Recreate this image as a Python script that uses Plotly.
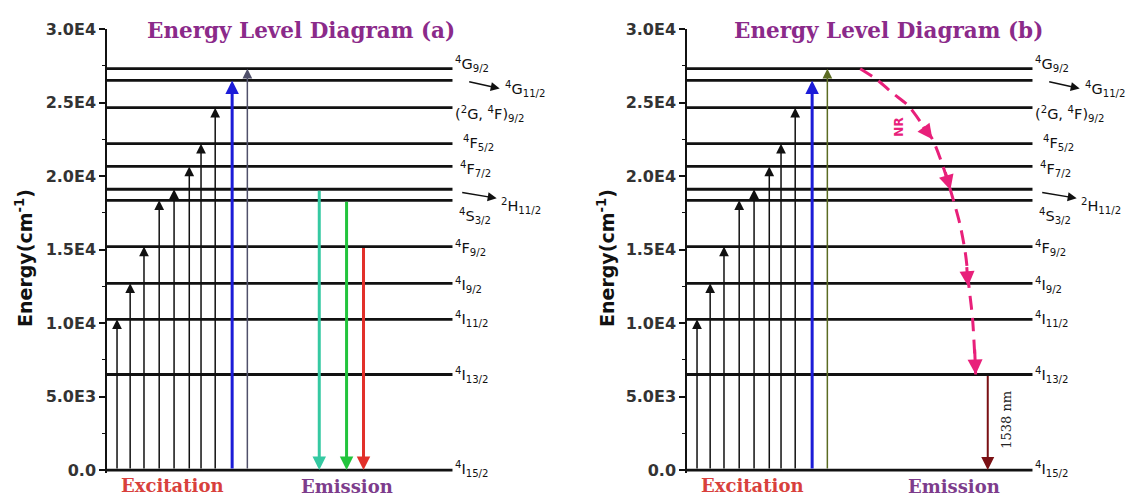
import plotly.graph_objects as go

W, H = 1131, 496

# ---------------- data ----------------
level_energy = [0, 6500, 10250, 12700, 15200, 18350, 19100, 20650, 22200, 24650, 26500, 27300]
level_names = [
    "<sup>4</sup>I<sub>15/2</sub>",
    "<sup>4</sup>I<sub>13/2</sub>",
    "<sup>4</sup>I<sub>11/2</sub>",
    "<sup>4</sup>I<sub>9/2</sub>",
    "<sup>4</sup>F<sub>9/2</sub>",
    "<sup>4</sup>S<sub>3/2</sub>",
    "<sup>2</sup>H<sub>11/2</sub>",
    "<sup>4</sup>F<sub>7/2</sub>",
    "<sup>4</sup>F<sub>5/2</sub>",
    "(<sup>2</sup>G, <sup>4</sup>F)<sub>9/2</sub>",
    "<sup>4</sup>G<sub>11/2</sub>",
    "<sup>4</sup>G<sub>9/2</sub>",
]
# label placement (pixel shifts from right end of level line)
label_xshift = [0, 0, 0, 0, 0, 4, 46, 5, 8, 0, 50, 0]
label_yshift = [1, 0, 0, -2, -1, -16, -17, -3, 1, -6, -9, 5]

exc_x = [2.9, 6.7, 10.7, 15.1, 19.4, 23.8, 27.2, 31.3, 36.2, 40.6]
exc_target = [10250, 12700, 15200, 18350, 19100, 20650, 22200, 24650, 26500, 27300]
exc_colors_a = ["#111111"] * 8 + ["#1c1cd8", "#50506a"]
exc_colors_b = ["#111111"] * 8 + ["#1c1cd8", "#5b6b22"]

em_a_x = [61.4, 69.3, 74.2]
em_a_from = [19100, 18350, 15200]
em_a_colors = ["#35c9a2", "#22c43c", "#e2302a"]

em_b_x = [87.0]
em_b_from = [6500]
em_b_colors = ["#7a1014"]

nr_x = [50.1, 55.0, 59.4, 63.8, 67.5, 71.0, 74.0, 76.2, 79.0, 80.6, 81.6, 82.6, 83.5]
nr_y = [27300, 26550, 25650, 24830, 23700, 22500, 20700, 19050, 16670, 14630, 12400, 10300, 6500]
# NR arrowheads: (tail_x, tail_y, tip_x, tip_y)
nr_heads = [(68.0, 23450, 71.0, 22500), (74.6, 20350, 76.2, 19050),
            (80.9, 13900, 81.3, 12500), (83.2, 8300, 83.5, 6500)]

y_tickvals = [0, 5000, 10000, 15000, 20000, 25000, 30000]
y_ticktext = ["0.0", "5.0E3", "1.0E4", "1.5E4", "2.0E4", "2.5E4", "3.0E4"]

titles = ["Energy Level Diagram (a)", "Energy Level Diagram (b)"]

# ---------------- layout geometry ----------------
mt, mb = 29, 23
plot_h = H - mt - mb
dom1 = [107 / W, 452.7 / W]
dom2 = [687 / W, 1032.7 / W]


def py(p):
    return (H - mb - p) / plot_h


fig = go.Figure()
annotations = []

TITLE_COLOR = "#8B2A8A"
panels = [
    dict(xa="x", ya="y", dom=dom1, exc_colors=exc_colors_a,
         em_x=em_a_x, em_from=em_a_from, em_colors=em_a_colors,
         title_cx=301, exc_cx=172, emi_cx=347, ytitle_cx=24),
    dict(xa="x2", ya="y2", dom=dom2, exc_colors=exc_colors_b,
         em_x=em_b_x, em_from=em_b_from, em_colors=em_b_colors,
         title_cx=888, exc_cx=752, emi_cx=954, ytitle_cx=606),
]

for pi, p in enumerate(panels):
    xa, ya = p["xa"], p["ya"]
    # level lines
    lx, ly = [], []
    for e in level_energy:
        lx += [0, 100, None]
        ly += [e, e, None]
    fig.add_trace(go.Scatter(x=lx, y=ly, mode="lines", xaxis=xa, yaxis=ya,
                             line=dict(color="#111111", width=2.8),
                             hoverinfo="skip", showlegend=False))
    # excitation arrows
    for i, (x, t) in enumerate(zip(exc_x, exc_target)):
        big = p["exc_colors"][i] == "#1c1cd8"
        annotations.append(dict(
            x=x, y=t, ax=x, ay=0, xref=xa, yref=ya, axref=xa, ayref=ya,
            text="", showarrow=True, arrowhead=2,
            arrowwidth=3 if big else 1.5, arrowsize=0.9 if big else 1.3,
            arrowcolor=p["exc_colors"][i]))
    # emission arrows
    for x, f, c in zip(p["em_x"], p["em_from"], p["em_colors"]):
        annotations.append(dict(
            x=x, y=0, ax=x, ay=f, xref=xa, yref=ya, axref=xa, ayref=ya,
            text="", showarrow=True, arrowhead=2,
            arrowwidth=3 if pi == 0 else 2, arrowsize=0.9 if pi == 0 else 1.3,
            arrowcolor=c))
    # level labels
    for i, (e, name) in enumerate(zip(level_energy, level_names)):
        annotations.append(dict(
            x=1, y=e, xref=xa + " domain", yref=ya, text=name, showarrow=False,
            xanchor="left", yanchor="middle",
            xshift=label_xshift[i], yshift=label_yshift[i],
            font=dict(family="DejaVu Sans", size=14.5, color="#111111")))
    # small linking arrows
    annotations.append(dict(x=1, y=level_energy[10], xref=xa + " domain", yref=ya,
                            xshift=47, yshift=-8, ax=-32, ay=-7, text="",
                            showarrow=True, arrowhead=2, arrowwidth=1.5,
                            arrowsize=1.2, arrowcolor="#111111"))
    annotations.append(dict(x=1, y=level_energy[6], xref=xa + " domain", yref=ya,
                            xshift=44, yshift=-9, ax=-36, ay=-6, text="",
                            showarrow=True, arrowhead=2, arrowwidth=1.5,
                            arrowsize=1.2, arrowcolor="#111111"))
    # title
    annotations.append(dict(x=p["title_cx"] / W, y=py(31), xref="paper", yref="paper",
                            text=titles[pi], showarrow=False, xanchor="center",
                            yanchor="middle",
                            font=dict(family="DejaVu Serif", size=21.5, color=TITLE_COLOR,
                                      weight="bold")))
    # bottom labels
    annotations.append(dict(x=p["exc_cx"] / W, y=py(485), xref="paper", yref="paper",
                            text="Excitation", showarrow=False, xanchor="center",
                            yanchor="middle",
                            font=dict(family="DejaVu Serif", size=18, color="#d8403c",
                                      weight="bold")))
    annotations.append(dict(x=p["emi_cx"] / W, y=py(486), xref="paper", yref="paper",
                            text="Emission", showarrow=False, xanchor="center",
                            yanchor="middle",
                            font=dict(family="DejaVu Serif", size=18, color="#7d3c8c",
                                      weight="bold")))
    # y title
    annotations.append(dict(x=p["ytitle_cx"] / W, y=py(258), xref="paper", yref="paper",
                            text="Energy(cm<sup>-1</sup>)", showarrow=False,
                            textangle=-90, xanchor="center", yanchor="middle",
                            font=dict(family="DejaVu Sans", size=19, color="#111111",
                                      weight="bold")))

# NR curve on panel b
fig.add_trace(go.Scatter(x=nr_x, y=nr_y, mode="lines", xaxis="x2", yaxis="y2",
                         line=dict(color="#e8207a", width=3, dash="14px,8px",
                                   shape="spline", smoothing=0.8),
                         hoverinfo="skip", showlegend=False))
for tx, ty, hx, hy in nr_heads:
    annotations.append(dict(x=hx, y=hy, ax=tx, ay=ty, xref="x2", yref="y2",
                            axref="x2", ayref="y2", text="", showarrow=True,
                            arrowhead=2, arrowwidth=3, arrowsize=1.0,
                            arrowcolor="#e8207a"))
annotations.append(dict(x=61.2, y=23330, xref="x2", yref="y2", text="NR",
                        showarrow=False, textangle=-90,
                        font=dict(family="DejaVu Sans", size=12, color="#e8207a",
                                  weight="bold")))
annotations.append(dict(x=92.2, y=3400, xref="x2", yref="y2", text="1538 nm",
                        showarrow=False, textangle=-90,
                        font=dict(family="DejaVu Serif", size=13, color="#222222")))

yaxis_common = dict(range=[-200, 30000], showgrid=False, zeroline=False,
                    showline=True, linecolor="#111111", linewidth=1.5,
                    ticks="outside", ticklen=6, tickwidth=1.5, tickcolor="#111111",
                    tickvals=y_tickvals, ticktext=y_ticktext,
                    tickfont=dict(family="DejaVu Sans", size=16, color="#333333",
                                  weight="bold"),
                    minor=dict(ticks="outside", ticklen=3, tickwidth=1.2,
                               tickcolor="#111111", dtick=2500, tick0=0))
xaxis_common = dict(range=[0, 100], showgrid=False, zeroline=False, showline=False,
                    showticklabels=False, ticks="")

fig.update_layout(
    width=W, height=H,
    margin=dict(l=0, r=0, t=mt, b=mb),
    paper_bgcolor="white", plot_bgcolor="white",
    xaxis=dict(domain=dom1, anchor="y", **xaxis_common),
    yaxis=dict(domain=[0, 1], anchor="x", **yaxis_common),
    xaxis2=dict(domain=dom2, anchor="y2", **xaxis_common),
    yaxis2=dict(domain=[0, 1], anchor="x2", **yaxis_common),
    annotations=annotations,
    showlegend=False,
)

fig.write_html("out.html")
